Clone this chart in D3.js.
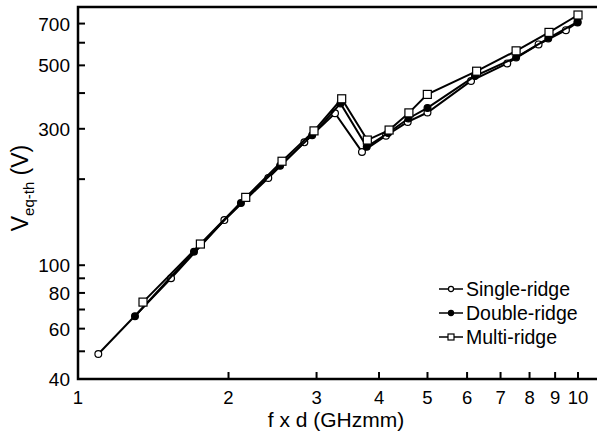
<!DOCTYPE html>
<html>
<head>
<meta charset="utf-8">
<script src="https://cdn.jsdelivr.net/npm/d3@7"></script>
<style>
  body { margin: 0; background: #fff; }
  svg { display: block; font-family: "Liberation Sans", Arial, sans-serif; }
</style>
</head>
<body>
<script>
var width = 597
var height = 437

// data (f x d in GHzmm, V in volts)
var singleX = [1.098, 1.535, 1.962, 2.402, 2.836, 3.266, 3.698, 4.13, 4.565, 5.0, 6.11, 7.22, 8.34, 9.46, 9.98]
var singleY = [48.9, 90, 143.8, 202, 269, 340, 249, 283.6, 317, 342, 441, 508, 592, 664, 706]

var doubleX = [1.30, 1.706, 2.118, 2.536, 2.94, 3.35, 3.78, 4.17, 4.58, 5.0, 6.22, 7.52, 8.72, 9.98]
var doubleY = [66.3, 111.5, 165, 222.7, 285, 368, 259.5, 290, 326, 355, 458.7, 533, 621, 709]

var multiX = [1.349, 1.757, 2.165, 2.559, 2.965, 3.368, 3.79, 4.19, 4.59, 4.996, 6.27, 7.52, 8.75, 10]
var multiY = [74.3, 118.6, 172.7, 231, 295, 382, 274, 297, 341, 395.7, 477, 562, 652, 750]

var xTicks = [1, 2, 3, 4, 5, 6, 7, 8, 9, 10]
var yLabelTicks = [40, 60, 80, 100, 300, 500, 700]
var yMinorTicks = [50, 70, 90, 200, 400, 600]

var series = [
  { name: "Single-ridge", xs: singleX, ys: singleY, marker: "circle", fill: "#fff" },
  { name: "Double-ridge", xs: doubleX, ys: doubleY, marker: "circle", fill: "#000" },
  { name: "Multi-ridge", xs: multiX, ys: multiY, marker: "square", fill: "#fff" }
]

var plotLeft = 78, plotBottom = 379, plotTop = 7

var x = d3.scaleLog().domain([1, 10]).range([plotLeft, plotLeft + 500])
var y = d3.scaleLog().domain([40, 800]).range([plotBottom, plotTop])

var svg = d3.select("body").append("svg")
  .attr("width", width).attr("height", height)

// frame: left, bottom, top (right edge is off the page)
svg.append("path")
  .attr("d", `M${width + 5},${plotTop}H${plotLeft}V${plotBottom}H${width + 5}`)
  .attr("fill", "none").attr("stroke", "#000").attr("stroke-width", 2.5)

// x ticks, pointing in
svg.append("g").selectAll("line").data(xTicks.slice(1)).join("line")
  .attr("x1", d => x(d)).attr("x2", d => x(d))
  .attr("y1", plotBottom).attr("y2", plotBottom - 7)
  .attr("stroke", "#000").attr("stroke-width", 2)

svg.append("g").selectAll("text").data(xTicks).join("text")
  .attr("x", d => x(d)).attr("y", 404)
  .attr("text-anchor", "middle").attr("font-size", 18.5)
  .text(d => d)

// y ticks
svg.append("g").selectAll("line").data(yLabelTicks.concat(yMinorTicks).filter(d => d > 40)).join("line")
  .attr("x1", plotLeft).attr("x2", plotLeft + 7)
  .attr("y1", d => y(d)).attr("y2", d => y(d))
  .attr("stroke", "#000").attr("stroke-width", 2)

svg.append("g").selectAll("text").data(yLabelTicks).join("text")
  .attr("x", 70).attr("y", d => y(d) + 7)
  .attr("text-anchor", "end").attr("font-size", 19)
  .text(d => d)

// axis titles
svg.append("text")
  .attr("x", 336).attr("y", 427)
  .attr("text-anchor", "middle").attr("font-size", 21)
  .text("f x d (GHzmm)")

var yt = svg.append("text")
  .attr("transform", "translate(28,188) rotate(-90)")
  .attr("text-anchor", "middle").attr("font-size", 23)
yt.append("tspan").text("V")
yt.append("tspan").attr("font-size", 15).attr("dy", 6).text("eq-th")
yt.append("tspan").attr("dy", -6).text(" (V)")

// series
var line = d3.line().x(d => x(d[0])).y(d => y(d[1]))

function drawMarker(g, s, px, py, size) {
  if (s.marker === "square") {
    g.append("rect")
      .attr("x", px - size).attr("y", py - size)
      .attr("width", size * 2).attr("height", size * 2)
      .attr("fill", s.fill).attr("stroke", "#000").attr("stroke-width", 1.2)
  } else {
    g.append("circle")
      .attr("cx", px).attr("cy", py).attr("r", size * 0.85)
      .attr("fill", s.fill).attr("stroke", "#000").attr("stroke-width", 1.2)
  }
}

series.forEach(s => {
  var pts = s.xs.map((v, i) => [v, s.ys[i]])
  var g = svg.append("g")
  g.append("path").datum(pts)
    .attr("d", line)
    .attr("fill", "none").attr("stroke", "#000").attr("stroke-width", 2)
  pts.forEach(p => drawMarker(g, s, x(p[0]), y(p[1]), 4))
})

// legend
var legY = [289, 313, 337]
series.forEach((s, i) => {
  var g = svg.append("g")
  g.append("line")
    .attr("x1", 439).attr("x2", 463)
    .attr("y1", legY[i]).attr("y2", legY[i])
    .attr("stroke", "#000").attr("stroke-width", 1.5)
  drawMarker(g, s, 451, legY[i], 3)
  g.append("text")
    .attr("x", 466).attr("y", legY[i] + 7)
    .attr("font-size", 19.5)
    .text(s.name)
})
</script>
</body>
</html>
